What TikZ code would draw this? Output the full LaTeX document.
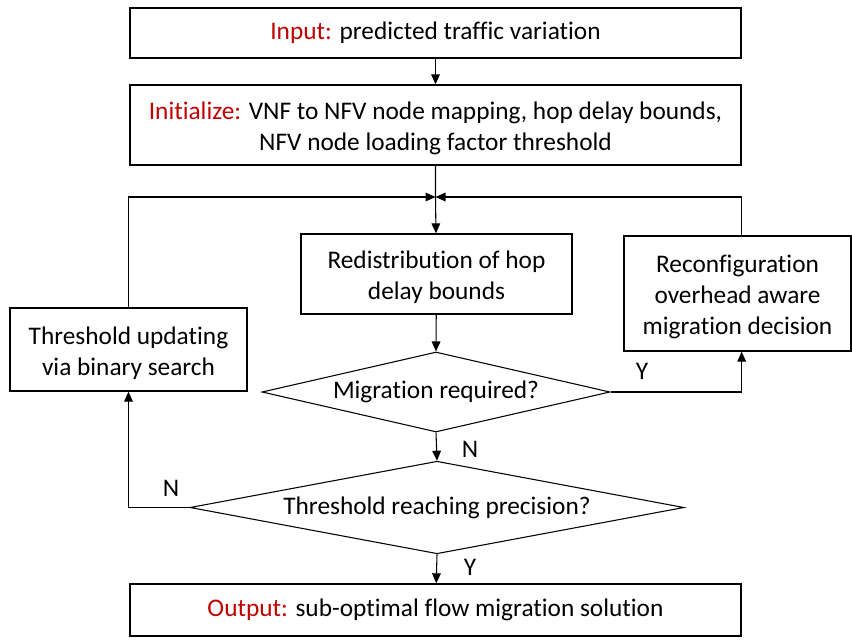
\documentclass[tikz,border=0pt]{standalone}
\usepackage{fontspec}
\setmainfont{Carlito}[Ligatures={NoCommon}]
\usetikzlibrary{shapes.geometric,arrows.meta}
\definecolor{kwred}{RGB}{192,0,0}
\begin{document}
\begin{tikzpicture}[x=0.75pt,y=-0.75pt,
  txt/.style={align=center,inner sep=0pt,font=\fontsize{19}{23.1}\selectfont},
  box/.style={draw=black,line width=1pt,fill=white,inner sep=0pt,txt},
  mbox/.style={box,label={[txt,yshift=-2.6pt]center:{#1}}},
  dec/.style={draw=black,line width=0.8pt,diamond,aspect=4.35,inner sep=0pt,txt},
  flow/.style={draw=black,line width=0.8pt,-{Triangle[length=7.5pt,width=6.5pt]}},
  lbl/.style={font=\fontsize{19}{23.1}\selectfont}]
\useasboundingbox (0,0) rectangle (852,642);
% process boxes
\node[box,minimum width=611*0.75pt,minimum height=50*0.75pt] (in) at (435.5,33) {\textcolor{kwred}{Input:} predicted traffic variation};
\node[mbox={\textcolor{kwred}{Initialize:} VNF to NFV node mapping, hop delay bounds,\\NFV node loading factor threshold},minimum width=611*0.75pt,minimum height=80*0.75pt] (init) at (435.5,125) {};
\coordinate (j) at (435.5,197);
\node[mbox={Redistribution of hop\\delay bounds},minimum width=271*0.75pt,minimum height=80*0.75pt] (redis) at (436.5,274) {};
\node[mbox={Reconfiguration\\overhead aware\\migration decision},minimum width=227*0.75pt,minimum height=115*0.75pt] (reconf) at (737.5,293.5) {};
\node[mbox={Threshold updating\\via binary search},minimum width=237*0.75pt,minimum height=83*0.75pt] (thr) at (128.5,349.5) {};
\node[dec,minimum width=348*0.75pt,minimum height=80*0.75pt] (mig) at (436,392) {Migration required?};
\node[dec,minimum width=494*0.75pt,minimum height=85*0.75pt] (prec) at (437,507.5) {Threshold reaching precision?};
\node[box,minimum width=611*0.75pt,minimum height=52*0.75pt] (out) at (435.5,610) {\textcolor{kwred}{Output:} sub-optimal flow migration solution};
% the right-hand loop runs in line with the right edge of the wide boxes
\coordinate (rs) at (init.east |- reconf.south);
\coordinate (rn) at (init.east |- reconf.north);
% main flow
\draw[flow] (in) -- (init);
\draw[flow] (init) -- (j) -- (redis);
\draw[flow] (redis) -- (mig.north);
\draw[flow] (mig.south) -- (prec.north);
\draw[flow] (prec.south) -- (out);
% migration branch
\draw[flow] (mig.east) -| (rs);
\draw[flow] (rn) |- (j);
% threshold branch
\draw[flow] (prec.west) -| (thr.south);
\draw[flow] (thr.north) |- (j);
% branch labels
\node[lbl] (ly1) at (642,371) {Y};
\node[lbl] (ln1) at (470,449) {N};
\node[lbl] (ln2) at (171,488) {N};
\node[lbl] (ly2) at (470,567) {Y};
\end{tikzpicture}
\end{document}
